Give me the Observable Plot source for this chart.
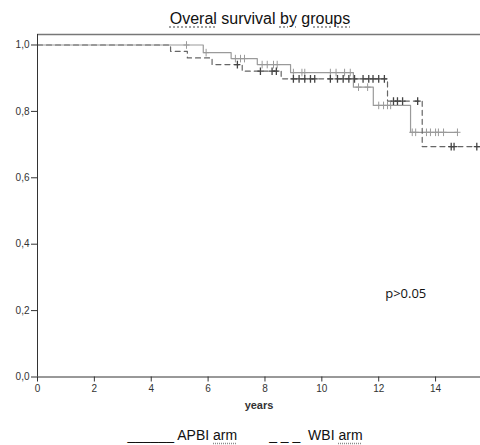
<!DOCTYPE html>
<html>
<head>
<meta charset="utf-8">
<script src="https://cdn.jsdelivr.net/npm/d3@7"></script>
<script src="https://cdn.jsdelivr.net/npm/@observablehq/plot@0.6"></script>
<style>
  html, body { margin: 0; padding: 0; background: #fff; }
  #wrap { width: 480px; height: 445px; position: relative; overflow: hidden; font-family: "Liberation Sans", Arial, sans-serif; }
  #title { height: 30px; width: 480px; box-sizing: border-box; padding-left: 40px; text-align: center; font-size: 16px; line-height: 38px; color: #111; }
  .sq { text-decoration: underline dotted #8a8a8a; text-underline-offset: 3px; }
  #chart { height: 382px; }
  #legend { height: 33px; width: 480px; box-sizing: border-box; padding-left: 10px; padding-top: 12px; text-align: center; font-size: 14px; line-height: 22px; color: #111; }
  #legend span.item { margin: 0 16px; }
  svg g[aria-label="x-axis label"] text { font-weight: bold; font-size: 11px; }
</style>
</head>
<body>
<div id="wrap">
  <div id="title"><span class="sq">Overal</span> survival <span class="sq">by</span> <span class="sq">groups</span></div>
  <div id="chart"></div>
  <div id="legend"><span class="item">______ APBI <span class="sq">arm</span></span><span class="item">_ _ _ &nbsp;WBI <span class="sq">arm</span></span></div>
</div>
<script>
// APBI arm (solid) – step points
const apbiTime = [0, 5.83, 6.81, 7.73, 8.9, 11.11, 11.81, 13.12, 14.77];
const apbiSurv = [1.0, 0.977, 0.959, 0.941, 0.917, 0.873, 0.818, 0.737, 0.737];
// APBI censored observations
const apbiCensTime = [5.24, 5.93, 6.96, 7.14, 7.28, 7.9, 8.08, 8.3, 8.43, 9.0, 9.3, 9.4, 10.3, 10.5, 10.8, 11.0, 11.29, 11.61, 12.0, 12.17, 12.31, 12.42, 13.18, 13.3, 13.68, 13.82, 14.0, 14.1, 14.28, 14.77];
const apbiCensSurv = [1.0, 0.977, 0.959, 0.959, 0.959, 0.941, 0.941, 0.941, 0.941, 0.917, 0.917, 0.917, 0.917, 0.917, 0.917, 0.917, 0.873, 0.873, 0.818, 0.818, 0.818, 0.818, 0.737, 0.737, 0.737, 0.737, 0.737, 0.737, 0.737, 0.737];

// WBI arm (dashed) – step points
const wbiTime = [0, 4.68, 5.27, 6.14, 7.2, 8.57, 12.31, 13.53, 15.58];
const wbiSurv = [1.0, 0.981, 0.961, 0.941, 0.921, 0.898, 0.831, 0.694, 0.694];
// WBI censored observations
const wbiCensTime = [7.03, 7.84, 8.25, 8.4, 9.0, 9.2, 9.4, 9.6, 9.75, 10.3, 10.55, 10.75, 10.95, 11.15, 11.45, 11.65, 11.8, 12.0, 12.2, 12.52, 12.66, 12.84, 13.37, 14.55, 14.65, 15.45];
const wbiCensSurv = [0.941, 0.921, 0.921, 0.921, 0.898, 0.898, 0.898, 0.898, 0.898, 0.898, 0.898, 0.898, 0.898, 0.898, 0.898, 0.898, 0.898, 0.898, 0.898, 0.831, 0.831, 0.831, 0.831, 0.694, 0.694, 0.694];

const xTicks = [0, 2, 4, 6, 8, 10, 12, 14];
const yTicks = [0, 0.2, 0.4, 0.6, 0.8, 1.0];
const pText = ["p>0.05"];
const pX = [12.95];
const pY = [0.25];

const toRows = (t, s) => t.map((d, i) => ({t: d, s: s[i]}));
const apbi = toRows(apbiTime, apbiSurv);
const wbi = toRows(wbiTime, wbiSurv);
const apbiC = toRows(apbiCensTime, apbiCensSurv);
const wbiC = toRows(wbiCensTime, wbiCensSurv);

const plusSymbol = {
  draw(ctx, size) {
    const r = Math.sqrt(size / Math.PI);
    ctx.moveTo(-r * 0.8, 0); ctx.lineTo(r * 0.8, 0);
    ctx.moveTo(0, -r); ctx.lineTo(0, r);
  }
};

const yMax = 1.0316;
const chart = Plot.plot({
  width: 480,
  height: 382,
  marginLeft: 37,
  marginRight: 0,
  marginTop: 4,
  marginBottom: 35.5,
  style: {fontFamily: "Liberation Sans, Arial, sans-serif", fontSize: "10px", color: "#333", background: "#fff"},
  x: {domain: [0, 15.58], ticks: xTicks, tickSize: 5, tickPadding: 3, label: "years", labelArrow: "none", labelAnchor: "center", labelOffset: 32},
  y: {domain: [0, yMax], ticks: yTicks, tickSize: 6, tickPadding: 2, tickFormat: d => d.toFixed(1).replace(".", ","), label: null},
  marks: [
    Plot.ruleY([yMax], {stroke: "#777", strokeWidth: 1.5}),
    Plot.line(apbi, {x: "t", y: "s", curve: "step-after", stroke: "#9a9a9a", strokeWidth: 1.2}),
    Plot.line(wbi, {x: "t", y: "s", curve: "step-after", stroke: "#666", strokeWidth: 1.2, strokeDasharray: "5,4"}),
    Plot.dot(apbiC, {x: "t", y: "s", symbol: plusSymbol, r: 3.8, stroke: "#9a9a9a", fill: "none", strokeWidth: 1}),
    Plot.dot(wbiC, {x: "t", y: "s", symbol: plusSymbol, r: 3.8, stroke: "#444", fill: "none", strokeWidth: 1.3}),
    Plot.text(pText, {x: pX, y: pY, text: d => d, fontSize: 13, fill: "#111", fontFamily: "Open Sans, sans-serif"}),
    Plot.ruleX([0], {stroke: "#333"}),
    Plot.ruleY([0], {stroke: "#333"})
  ]
});
// make sure no arrow is shown on the x label
chart.querySelectorAll('g[aria-label="x-axis label"] text').forEach(t => { t.textContent = "years"; });
document.getElementById("chart").appendChild(chart);
</script>
</body>
</html>
